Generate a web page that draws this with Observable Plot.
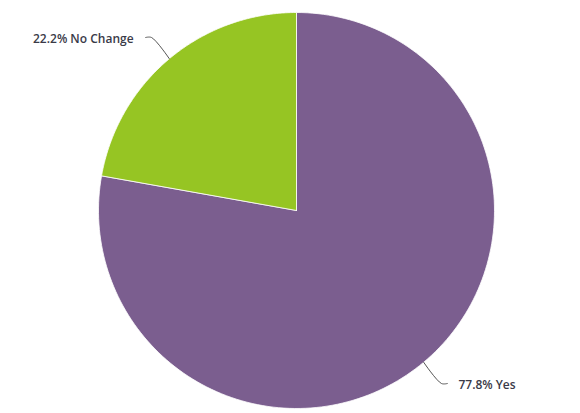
<!DOCTYPE html>
<html><head><meta charset="utf-8">
<script src="https://cdn.jsdelivr.net/npm/d3@7"></script>
<script src="https://cdn.jsdelivr.net/npm/@observablehq/plot@0.6"></script>
<style>body{margin:0;background:#fff}</style>
</head><body><div id="chart"></div>
<script>
const categories = ["Yes", "No Change"];
const percents = [77.8, 22.2];
const colors = ["#7b5e8f", "#96c523"];

const pie = d3.pie().sort(null).value(d => d.value)(
  categories.map((c, i) => ({category: c, value: percents[i]}))
);
const N = 180;
const slicePts = pie.flatMap(s => {
  const pts = [{category: s.data.category, x: 0, y: 0}];
  for (let k = 0; k <= N; k++) {
    const a = s.startAngle + (s.endAngle - s.startAngle) * k / N;
    pts.push({category: s.data.category, x: Math.sin(a), y: Math.cos(a)});
  }
  pts.push({category: s.data.category, x: 0, y: 0});
  return pts;
});

const R1 = 1.14, H = 0.03;
const labels = pie.map(s => {
  const m = (s.startAngle + s.endAngle) / 2;
  const side = Math.sin(m) >= 0 ? 1 : -1;
  const ex = Math.sin(m) * R1, ey = Math.cos(m) * R1;
  return {
    category: s.data.category,
    text: `${s.data.value}% ${s.data.category}`,
    side,
    pts: [
      {x: Math.sin(m), y: Math.cos(m)},
      {x: ex, y: ey},
      {x: ex + side * H, y: ey}
    ],
    tx: ex + side * H, ty: ey
  };
});
const connPts = labels.flatMap(l => l.pts.map(p => ({...p, category: l.category})));

const chart = Plot.plot({
  width: 580,
  height: 413,
  marginLeft: 98,
  marginRight: 86,
  marginTop: 12,
  marginBottom: 5,
  x: {domain: [-1, 1], axis: null},
  y: {domain: [-1, 1], axis: null},
  color: {domain: categories, range: colors},
  style: {fontFamily: "'Open Sans', sans-serif", background: "#fff"},
  marks: [
    Plot.line(slicePts, {x: "x", y: "y", z: "category", fill: "category", stroke: "#fff", strokeWidth: 0.8}),
    Plot.line(connPts, {x: "x", y: "y", z: "category", stroke: "#555", strokeWidth: 1, curve: "catmull-rom"}),
    Plot.text(labels.filter(l => l.side > 0), {x: "tx", y: "ty", text: "text", textAnchor: "start", dx: 11, dy: 2, fontSize: 12, fontWeight: 600, fill: "#3a3a48"}),
    Plot.text(labels.filter(l => l.side < 0), {x: "tx", y: "ty", text: "text", textAnchor: "end", dx: -12, dy: 2, fontSize: 12, fontWeight: 600, fill: "#3a3a48"})
  ]
});
document.getElementById("chart").appendChild(chart);
</script>
</body></html>
